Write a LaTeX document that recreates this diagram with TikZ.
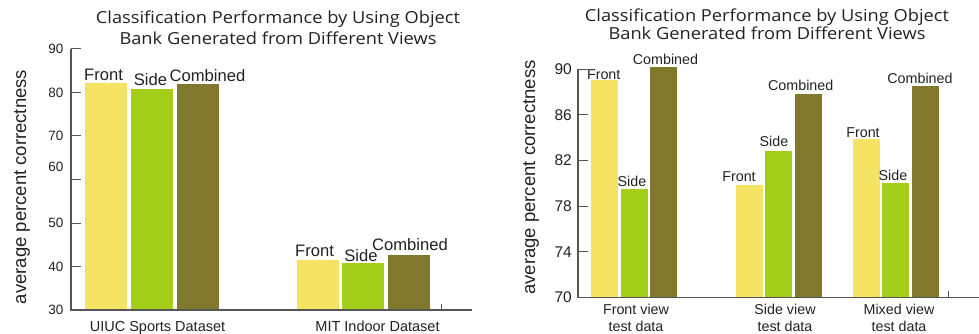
\documentclass[tikz,border=0pt]{standalone}
\usepackage{fontspec}
\setmainfont{Liberation Sans}
\newfontfamily\titlefont[FakeStretch=1.1]{Open Sans}
\usetikzlibrary{positioning}

\definecolor{barfront}{HTML}{F5E464}
\definecolor{barside}{HTML}{A3CE1A}
\definecolor{barcomb}{HTML}{7F782D}
\definecolor{axisgray}{HTML}{555555}
\definecolor{inkgray}{HTML}{222222}

\begin{document}
\begin{tikzpicture}[
    x=1pt, y=-1pt,
    axis/.style={draw=axisgray, line width=1.3pt},
    tickmark/.style={draw=axisgray, line width=1pt},
    ticklabel/.style={inner sep=0pt, text=inkgray, anchor=east},
    barlabel/.style={inner sep=0pt, text=inkgray, anchor=base},
    catlabel/.style={inner sep=0pt, text=inkgray, anchor=base, align=center},
    axislabel/.style={inner sep=0pt, text=inkgray, rotate=90, font=\fontsize{18.5}{20}\selectfont},
    charttitle/.style={inner sep=0pt, text=inkgray, align=center, anchor=base}
]
\useasboundingbox (0,0) rectangle (979,334);

% ---------------- left chart: datasets ----------------
% (base of a two-line node = baseline of its last line)
\node (ltitle) [charttitle, font=\titlefont\fontsize{16.6}{21}\selectfont] at (278,44.3)
    {Classification Performance by Using Object\\Bank Generated from Different Views};
\node (lylab) [axislabel] at (22,187) {average percent correctness};

% bars
\foreach \xl/\xr/\v/\c in {85/127/82.2/barfront, 131/173/80.8/barside, 177/219/82.0/barcomb,
                          297/339/41.5/barfront, 342/384/40.8/barside, 388/430/42.6/barcomb}
    \fill[\c] (\xl,310) rectangle (\xr,{310-(\v-30)*4.35});

% axes and ticks
\draw[axis] (71,49) -- (71,310) -- (472,310);
\foreach \v in {30,40,...,90}
    \draw[tickmark] (71,{310-(\v-30)*4.35}) -- ++(10,0);
\draw[tickmark] (441,310) -- (441,304);
\foreach \v/\yy in {90/49, 80/93, 70/136, 60/167, 50/223, 40/266.7, 30/310}
    \node (ltick\v) [ticklabel, font=\fontsize{13.5}{15}\selectfont] at (63.5,\yy) {\v};

% bar labels
\foreach \xc/\yy/\t [count=\i] in {103.5/81/Front, 150.5/86/Side, 207.5/82/Combined,
                                  314.5/256.7/Front, 361/261.7/Side, 410/250/Combined}
    \node (lbar\i) [barlabel, font=\fontsize{16.6}{18}\selectfont] at (\xc,\yy) {\t};

% categories
\node (luiuc) [catlabel, font=\fontsize{14.5}{16}\selectfont] at (157.5,331) {UIUC Sports Dataset};
\node (lmit) [catlabel, font=\fontsize{14.5}{16}\selectfont] at (377.5,331) {MIT Indoor Dataset};

% ---------------- right chart: test views ----------------
\node (rtitle) [charttitle, font=\titlefont\fontsize{16.6}{17.6}\selectfont] at (767,39.3)
    {Classification Performance by Using Object\\Bank Generated from Different Views};
\node (rylab) [axislabel] at (531,177.5) {average percent correctness};

% bars
\foreach \xl/\xr/\v/\c in {591/618/89.06/barfront, 621/648/79.5/barside, 650/677/90.2/barcomb,
                          736/763/79.85/barfront, 765/792/82.83/barside, 795/822/87.8/barcomb,
                          853/880/83.9/barfront, 882/909/80.05/barside, 912/939/88.5/barcomb}
    \fill[\c] (\xl,297.3) rectangle (\xr,{297.3-(\v-70)*11.4});

% axes and ticks
\draw[axis] (578,69) -- (578,297.3) -- (979,297.3);
\foreach \v in {70,74,...,90}
    \draw[tickmark] (578,{297.3-(\v-70)*11.4}) -- ++(10,0);
\draw[tickmark] (948,297.3) -- (948,291);
\foreach \v in {70,74,...,90}
    \node (rtick\v) [ticklabel, font=\fontsize{15.5}{17}\selectfont] at (572,{297.3-(\v-70)*11.4}) {\v};

% bar labels
\foreach \xc/\yy/\t [count=\i] in {603.7/80/Front, 632/186.7/Side, 665.5/64.3/Combined,
                                  739/181/Front, 774/146.7/Side, 800.7/91/Combined,
                                  863/137.7/Front, 893/180.7/Side, 920/84/Combined}
    \node (rbar\i) [barlabel, font=\fontsize{14.3}{16}\selectfont] at (\xc,\yy) {\t};

% categories
\node (rfront) [catlabel, font=\fontsize{14.3}{16.8}\selectfont] at (636,331) {Front view\\test data};
\node (rside) [catlabel, font=\fontsize{14.3}{16.8}\selectfont] at (785,331) {Side view\\test data};
\node (rmixed) [catlabel, font=\fontsize{14.3}{16.8}\selectfont] at (899,331) {Mixed view\\test data};
\end{tikzpicture}
\end{document}
